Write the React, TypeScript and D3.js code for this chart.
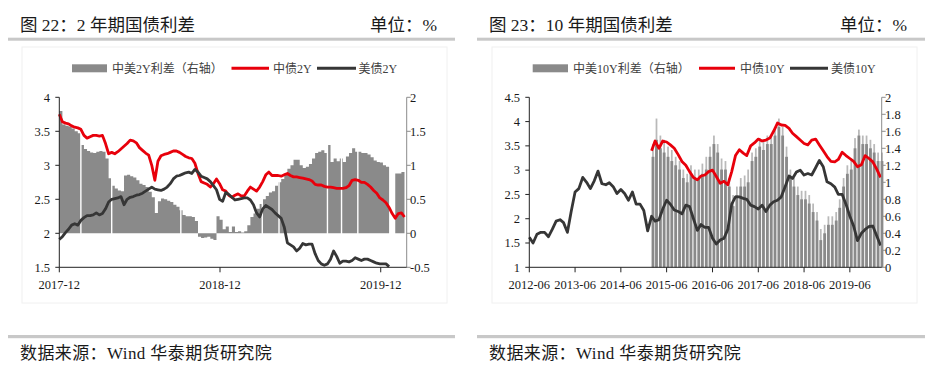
import React from "react";
import * as d3 from "d3";

// ---------------- Data: Figure 22 (2Y, weekly from 2017-12-01) ----------------
const start2Y = "2017-12-01";
const cn2Y = [
  3.75, 3.64, 3.62, 3.61, 3.58, 3.56, 3.55, 3.53, 3.44, 3.40,
  3.42, 3.44, 3.44, 3.43, 3.44, 3.32, 3.17, 3.19, 3.17, 3.20,
  3.24, 3.28, 3.32, 3.37, 3.36, 3.33, 3.26, 3.22, 3.18, 3.15,
  3.00, 2.78, 3.06, 3.14, 3.16, 3.17, 3.19, 3.21, 3.21, 3.19,
  3.16, 3.13, 3.11, 3.10, 3.03, 2.88, 2.76, 2.74, 2.72, 2.68,
  2.73, 2.80, 2.73, 2.64, 2.62, 2.56, 2.53, 2.56, 2.58, 2.55,
  2.55, 2.62, 2.68, 2.65, 2.62, 2.68, 2.76, 2.86, 2.90, 2.85,
  2.85, 2.85, 2.84, 2.86, 2.88, 2.85, 2.83, 2.83, 2.82, 2.81,
  2.80, 2.79, 2.77, 2.72, 2.71, 2.71, 2.69, 2.68, 2.68, 2.67,
  2.66, 2.66, 2.66, 2.67, 2.70, 2.78, 2.79, 2.78, 2.75, 2.75,
  2.72, 2.68, 2.63, 2.59, 2.52, 2.49, 2.45, 2.38, 2.29, 2.22,
  2.29, 2.30, 2.24,
];
const us2Y = [
  1.91, 1.95, 2.01, 2.06, 2.12, 2.14, 2.12, 2.19, 2.23, 2.26,
  2.26, 2.27, 2.30, 2.27, 2.29, 2.36, 2.46, 2.50, 2.51, 2.52,
  2.54, 2.42, 2.50, 2.53, 2.54, 2.56, 2.57, 2.59, 2.62, 2.65,
  2.68, 2.65, 2.64, 2.63, 2.65, 2.68, 2.73, 2.80, 2.84, 2.85,
  2.87, 2.89, 2.90, 2.88, 2.94, 2.90, 2.84, 2.82, 2.80, 2.76,
  2.70, 2.64, 2.50, 2.47, 2.60, 2.57, 2.53, 2.49, 2.50, 2.51,
  2.52, 2.52, 2.49, 2.42, 2.30, 2.24, 2.36, 2.41, 2.38, 2.35,
  2.30, 2.26, 2.22, 2.09, 1.86, 1.83, 1.80, 1.74, 1.78, 1.85,
  1.83, 1.84, 1.84, 1.70, 1.60, 1.55, 1.53, 1.55, 1.62, 1.74,
  1.66, 1.56, 1.59, 1.59, 1.58, 1.60, 1.64, 1.62, 1.60, 1.62,
  1.62, 1.60, 1.58, 1.56, 1.55, 1.55, 1.55, 1.51,
];
const spread2Y: (number | null)[] = [
  1.80, 1.60, 1.58, 1.57, 1.54, 1.50, 1.47, 1.30, 1.24, 1.21,
  1.19, 1.18, 1.20, 1.21, 1.20, 1.10, 0.81, 0.70, 0.66, 0.63,
  0.62, 0.85, 0.86, 0.84, 0.82, 0.78, 0.73, 0.71, 0.68, 0.61,
  0.53, 0.30, 0.47, 0.51, 0.50, 0.48, 0.46, 0.42, 0.39, 0.34,
  0.27, 0.25, 0.25, 0.24, 0.18, -0.05, -0.07, -0.06, -0.05, -0.08,
  -0.10, 0.25, 0.20, 0.06, 0.10, 0.02, 0.10, 0.02, 0.03, 0.01,
  0.03, 0.12, 0.24, 0.29, 0.36, 0.43, 0.50, 0.55, 0.60, 0.62,
  0.70, 0.75, 0.80, 0.88, 0.95, 1.00, 1.08, 1.08, 1.00, 0.96,
  0.98, 1.02, 1.10, 1.18, 1.20, 1.22, 1.18, 1.30, 1.05, 1.10,
  1.06, 1.10, 1.05, 1.13, 1.18, 1.25, 1.20, 1.20, 1.18, 1.18,
  1.16, 1.12, 1.07, 1.05, 1.04, 1.00, 0.98, 0.96, null, 0.88,
  0.88, 0.90, 1.03,
];
// days without a spread value (white gaps in the bars)
const gapDays2Y = [
  "2018-01-19", "2018-03-30", "2018-09-03", "2019-03-07", "2019-04-14",
  "2019-08-02", "2019-09-03", "2019-10-10",
];
const xTicks2Y = ["2017-12", "2018-12", "2019-12"];
const leftTicks2Y = [1.5, 2, 2.5, 3, 3.5, 4];
const rightTicks2Y = [-0.5, 0, 0.5, 1, 1.5, 2];

// ---------------- Data: Figure 23 (10Y, monthly) ----------------
const startUs10Y = "2012-06-01";
const us10Y = [
  1.62, 1.50, 1.68, 1.72, 1.72, 1.63, 1.78, 1.95, 1.98, 1.92,
  1.72, 2.15, 2.55, 2.62, 2.85, 2.75, 2.62, 2.78, 2.98, 2.72,
  2.70, 2.74, 2.66, 2.52, 2.60, 2.52, 2.38, 2.55, 2.30, 2.30,
  2.17, 1.75, 2.05, 1.95, 1.98, 2.20, 2.38, 2.30, 2.18, 2.15,
  2.10, 2.28, 2.25, 2.00, 1.76, 1.88, 1.82, 1.82, 1.60, 1.48,
  1.56, 1.60, 1.78, 2.30, 2.45, 2.45, 2.42, 2.40, 2.28, 2.25,
  2.20, 2.28, 2.15, 2.28, 2.35, 2.38, 2.45, 2.66, 2.88, 2.83,
  2.96, 3.00, 2.90, 2.93, 2.90, 3.05, 3.20, 3.07, 2.76, 2.72,
  2.65, 2.50, 2.50, 2.30, 2.05, 1.85, 1.55, 1.70, 1.78, 1.84,
  1.85, 1.65, 1.45,
];
const startCn10Y = "2015-02-01";
const cn10Y = [
  3.40, 3.60, 3.45, 3.60, 3.58, 3.52, 3.45, 3.32, 3.18, 3.10,
  2.97, 2.85, 2.80, 2.88, 2.90, 2.97, 3.00, 2.87, 2.73, 2.77,
  2.70, 2.97, 3.30, 3.42, 3.35, 3.30, 3.50, 3.56, 3.64, 3.60,
  3.62, 3.66, 3.80, 3.97, 3.93, 3.92, 3.86, 3.76, 3.69, 3.62,
  3.55, 3.52, 3.62, 3.64, 3.52, 3.40, 3.28, 3.18, 3.17, 3.22,
  3.37, 3.30, 3.24, 3.18, 3.07, 3.11, 3.30, 3.24, 3.17, 3.02,
  2.85,
];
// spread body (dense part of the bars) and spiky tops (lighter fringe)
const spread10Y = [
  1.30, 1.50, 1.40, 1.35, 1.30, 1.25, 1.20, 1.15, 1.05, 1.00,
  1.10, 1.05, 1.05, 1.10, 1.15, 1.30, 1.45, 1.35, 1.15, 1.15,
  0.95, 0.72, 0.85, 0.95, 0.95, 1.00, 1.25, 1.30, 1.42, 1.38,
  1.45, 1.45, 1.55, 1.65, 1.55, 1.30, 1.05, 0.95, 0.85, 0.80,
  0.80, 0.75, 0.65, 0.55, 0.32, 0.40, 0.50, 0.50, 0.55, 0.70,
  0.95, 1.10, 1.15, 1.40, 1.55, 1.45, 1.45, 1.40, 1.35, 1.25,
  1.25,
];
const spread10YTop = [
  1.45, 1.75, 1.55, 1.50, 1.42, 1.38, 1.30, 1.25, 1.15, 1.10,
  1.20, 1.15, 1.15, 1.22, 1.30, 1.42, 1.55, 1.45, 1.28, 1.25,
  1.05, 0.85, 0.95, 1.05, 1.08, 1.15, 1.35, 1.40, 1.52, 1.48,
  1.55, 1.55, 1.65, 1.75, 1.65, 1.42, 1.15, 1.05, 0.95, 0.90,
  0.90, 0.85, 0.75, 0.65, 0.45, 0.50, 0.60, 0.60, 0.65, 0.80,
  1.05, 1.20, 1.28, 1.52, 1.62, 1.55, 1.55, 1.50, 1.45, 1.35,
  1.35,
];
const xTicks10Y = ["2012-06", "2013-06", "2014-06", "2015-06", "2016-06", "2017-06", "2018-06", "2019-06"];
const leftTicks10Y = [1, 1.5, 2, 2.5, 3, 3.5, 4, 4.5];
const rightTicks10Y = [0, 0.2, 0.4, 0.6, 0.8, 1, 1.2, 1.4, 1.6, 1.8, 2];

// ---------------- Styling ----------------
const SERIF = "'Liberation Serif', 'Times New Roman', 'Noto Sans CJK SC', serif";
const RED = "#e8000b";
const DARK = "#363636";
const BAR = "#8a8a8a";
const BAR_LIGHT = "#b9b9b9";
const TEXT = "#1a1a1a";
const SEP = "#c8c8c8";

const parseDay = d3.timeParse("%Y-%m-%d");
const parseMonth = d3.timeParse("%Y-%m");

type AxisProps = {
  x1: d3.ScaleTime<number, number>;
  yL: d3.ScaleLinear<number, number>;
  yR: d3.ScaleLinear<number, number>;
  leftTicks: number[];
  rightTicks: number[];
  xTicks: string[];
  leftLabelX: number;
  rightLabelX: number;
};

function Axes({ x1, yL, yR, leftTicks, rightTicks, xTicks, leftLabelX, rightLabelX }: AxisProps) {
  const [xa, xb] = x1.range();
  const [yb, ya] = yL.range();
  return (
    <g fontFamily={SERIF} fontSize={12.5} fill={TEXT}>
      <line x1={xa} x2={xa} y1={ya} y2={yb} stroke="#222" strokeWidth={1} />
      {leftTicks.map((t) => (
        <g key={"l" + t}>
          <line x1={xa - 4} x2={xa} y1={yL(t)} y2={yL(t)} stroke="#222" />
          <text x={leftLabelX} y={yL(t) + 4.3} textAnchor="end">{String(t)}</text>
        </g>
      ))}
      <line x1={xb} x2={xb} y1={ya} y2={yb} stroke="#8c8c8c" strokeWidth={1} />
      {rightTicks.map((t) => (
        <g key={"r" + t}>
          <line x1={xb} x2={xb + 4} y1={yR(t)} y2={yR(t)} stroke="#8c8c8c" />
          <text x={rightLabelX} y={yR(t) + 4.3} textAnchor="start">{String(t)}</text>
        </g>
      ))}
      <line x1={xa} x2={xb} y1={yb} y2={yb} stroke="#222" strokeWidth={1} />
      {xTicks.map((t) => {
        const px = x1(parseMonth(t)!);
        return (
          <g key={"x" + t}>
            <line x1={px} x2={px} y1={yb} y2={yb + 5} stroke="#222" />
            <text x={px} y={289} textAnchor="middle">{t}</text>
          </g>
        );
      })}
    </g>
  );
}

type LegendItem = { kind: "rect" | "line"; a: number; b: number; color: string; label: string; tx: number };

function Legend({ items, y }: { items: LegendItem[]; y: number }) {
  return (
    <g fontFamily={SERIF} fontSize={12} fill="#404040">
      {items.map((it) => (
        <g key={it.label}>
          {it.kind === "rect" ? (
            <rect x={it.a} y={y - 4} width={it.b - it.a} height={8} fill={it.color} />
          ) : (
            <line x1={it.a} x2={it.b} y1={y} y2={y} stroke={it.color} strokeWidth={3} />
          )}
          <text x={it.tx} y={y + 4.3}>{it.label}</text>
        </g>
      ))}
    </g>
  );
}

function Header({ x0, x1, title, right, fx0, fx1 }: { x0: number; x1: number; title: string; right: number; fx0: number; fx1: number }) {
  return (
    <g fontFamily={SERIF} fill={TEXT}>
      <rect x={fx0} y={47} width={fx1 - fx0} height={256} fill="none" stroke="#f0f0f0" strokeWidth={1} />
      <text x={x0 + 12} y={30.5} fontSize={17.5}>{title}</text>
      <text x={right} y={30.5} fontSize={17.5} textAnchor="end">单位：%</text>
      <rect x={x0} y={37.7} width={x1 - x0} height={3} fill={SEP} />
      <rect x={x0} y={335} width={x1 - x0} height={3.2} fill={SEP} />
      <text x={x0 + 12} y={358.5} fontSize={17} letterSpacing={0.4}>数据来源：Wind 华泰期货研究院</text>
    </g>
  );
}

function Chart2Y() {
  const x = d3.scaleTime().domain([parseDay("2017-12-01")!, parseDay("2020-01-29")!]).range([59.3, 406.7]);
  const yL = d3.scaleLinear().domain([1.5, 4]).range([267.3, 97.3]);
  const yR = d3.scaleLinear().domain([-0.5, 2]).range([267.3, 97.3]);
  const s = parseDay(start2Y)!;
  const dates = cn2Y.map((_, i) => d3.timeDay.offset(s, i * 7));
  const area = d3
    .area<number | null>()
    .defined((v) => v != null)
    .x((_, i) => x(dates[i]))
    .y0(yR(0))
    .y1((v) => yR(v as number))
    .curve(d3.curveStepAfter);
  const line = d3
    .line<number>()
    .x((_, i) => x(dates[i]))
    .y((v) => yL(v));
  return (
    <g>
      <path d={area(spread2Y) || ""} fill={BAR} />
      {gapDays2Y.map((g) => (
        <rect key={g} x={x(parseDay(g)!) - 0.7} width={1.4} y={97} height={171} fill="#fff" />
      ))}
      <path d={line(cn2Y) || ""} fill="none" stroke={RED} strokeWidth={2.8} strokeLinejoin="round" />
      <path d={line(us2Y) || ""} fill="none" stroke={DARK} strokeWidth={2.8} strokeLinejoin="round" />
      <Axes x1={x} yL={yL} yR={yR} leftTicks={leftTicks2Y} rightTicks={rightTicks2Y} xTicks={xTicks2Y} leftLabelX={50} rightLabelX={410} />
      <Legend
        y={68.3}
        items={[
          { kind: "rect", a: 72, b: 107, color: BAR, label: "中美2Y利差（右轴）", tx: 112 },
          { kind: "line", a: 231.5, b: 269, color: RED, label: "中债2Y", tx: 273 },
          { kind: "line", a: 317, b: 356, color: DARK, label: "美债2Y", tx: 358.5 },
        ]}
      />
    </g>
  );
}

function Chart10Y() {
  const x = d3.scaleTime().domain([parseDay("2012-06-01")!, parseDay("2020-02-10")!]).range([529.3, 881.7]);
  const yL = d3.scaleLinear().domain([1, 4.5]).range([267.3, 97.3]);
  const yR = d3.scaleLinear().domain([0, 2]).range([267.3, 97.3]);
  const su = parseDay(startUs10Y)!;
  const sc = parseDay(startCn10Y)!;
  const usDates = us10Y.map((_, i) => d3.timeMonth.offset(su, i));
  const cnDates = cn10Y.map((_, i) => d3.timeMonth.offset(sc, i));
  const lineUs = d3.line<number>().x((_, i) => x(usDates[i])).y((v) => yL(v));
  const lineCn = d3.line<number>().x((_, i) => x(cnDates[i])).y((v) => yL(v));
  const step = x(cnDates[1]) - x(cnDates[0]);
  return (
    <g>
      {spread10YTop.map((v, i) => (
        <rect key={"t" + i} x={x(cnDates[i]) + step * 0.15} width={step * 0.5} y={yR(v)} height={yR(0) - yR(v)} fill={BAR_LIGHT} />
      ))}
      {spread10Y.map((v, i) => (
        <rect key={i} x={x(cnDates[i])} width={step * 0.8} y={yR(v)} height={yR(0) - yR(v)} fill={BAR} />
      ))}
      <path d={lineCn(cn10Y) || ""} fill="none" stroke={RED} strokeWidth={2.8} strokeLinejoin="round" />
      <path d={lineUs(us10Y) || ""} fill="none" stroke={DARK} strokeWidth={2.8} strokeLinejoin="round" />
      <Axes x1={x} yL={yL} yR={yR} leftTicks={leftTicks10Y} rightTicks={rightTicks10Y} xTicks={xTicks10Y} leftLabelX={520} rightLabelX={885} />
      <Legend
        y={68.3}
        items={[
          { kind: "rect", a: 532.7, b: 568, color: BAR, label: "中美10Y利差（右轴）", tx: 573 },
          { kind: "line", a: 699, b: 735, color: RED, label: "中债10Y", tx: 740 },
          { kind: "line", a: 790, b: 828, color: DARK, label: "美债10Y", tx: 831 },
        ]}
      />
    </g>
  );
}

export default function App() {
  return (
    <svg width={945} height={380} viewBox="0 0 945 380" style={{ position: "absolute", left: 0, top: 0, background: "#fff" }}>
      <rect x={0} y={0} width={945} height={380} fill="#fff" />
      <Header x0={8} x1={455} title="图 22：2 年期国债利差" right={437} fx0={22} fx1={447} />
      <Header x0={477} x1={925} title="图 23：10 年期国债利差" right={907} fx0={492} fx1={917} />
      <Chart2Y />
      <Chart10Y />
    </svg>
  );
}
